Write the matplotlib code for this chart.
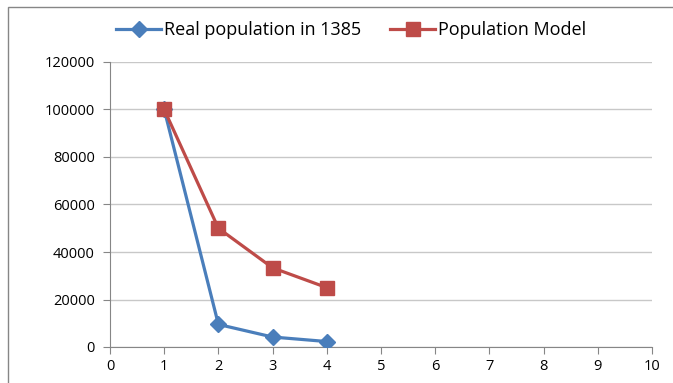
"""Real population in 1385 vs population model (Excel-style scatter with lines)."""

import matplotlib
matplotlib.use("Agg")
import matplotlib.pyplot as plt
from matplotlib.patches import Rectangle

plt.rcParams["font.family"] = ["Open Sans", "DejaVu Sans"]

x_values = [1, 2, 3, 4]
real_population = [100000, 9500, 4200, 2300]
model_population = [100000, 50000, 33333, 25000]

x_ticks = list(range(0, 11))
y_ticks = list(range(0, 120001, 20000))

BLUE = "#4a7ebb"
RED = "#be4b48"
GRID = "#c8c8c8"
AXIS = "#868686"

fig = plt.figure(figsize=(6.73, 3.83), dpi=100)
ax = fig.add_axes([110 / 673, 1 - 347 / 383, 542 / 673, 285 / 383])

ax.plot(x_values, real_population, color=BLUE, lw=2.3, marker="D",
        markersize=8, label="Real population in 1385", zorder=3)
ax.plot(x_values, model_population, color=RED, lw=2.3, marker="s",
        markersize=9.5, label="Population Model", zorder=4)

ax.set_xlim(0, 10)
ax.set_ylim(0, 120000)
ax.set_xticks(x_ticks)
ax.set_yticks(y_ticks)
ax.tick_params(axis="both", labelsize=10.5, colors=AXIS, labelcolor="black",
               direction="out", length=5, width=0.8)
ax.tick_params(axis="y", pad=6)
ax.tick_params(axis="x", pad=4)
ax.grid(True, axis="y", color=GRID, lw=1)
ax.set_axisbelow(True)
for side in ("top", "right"):
    ax.spines[side].set_visible(False)
for side in ("left", "bottom"):
    ax.spines[side].set_color(AXIS)
    ax.spines[side].set_linewidth(0.8)

fig.legend(loc="center", bbox_to_anchor=(351 / 673, 1 - 30 / 383), ncol=2,
           frameon=False, fontsize=13, handlelength=2.5, columnspacing=1.6,
           handletextpad=0.15)

# outer chart frame
fig.add_artist(Rectangle((8 / 673, -0.05), 1.0, 1 - 7 / 383 + 0.05,
                         transform=fig.transFigure, fill=False,
                         edgecolor=AXIS, lw=1))

fig.savefig("out.png", dpi=100)
plt.close(fig)
